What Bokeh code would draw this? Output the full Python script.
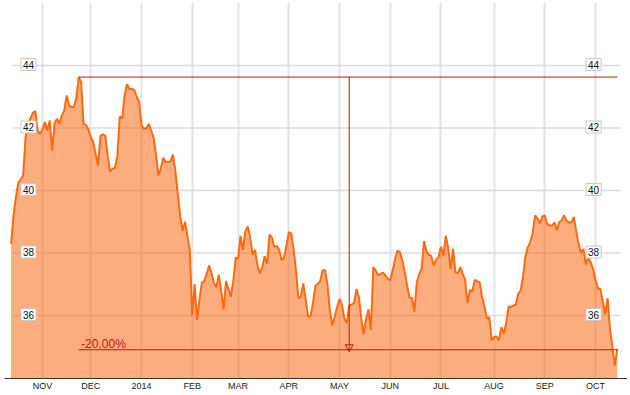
from bokeh.plotting import figure
from bokeh.models import FixedTicker, Range1d
from bokeh.embed import file_html
from bokeh.resources import INLINE
from bokeh.core.properties import value

# Daily closing prices, one per trading day, Oct 15 2013 .. Oct 14 2014
prices = [
    38.29, 39.2, 39.8, 40.25, 40.35, 40.48, 41.71, 42.1, 42.3, 42.48,
    42.54, 41.92, 41.81, 41.95, 42.19, 41.92, 42.24, 41.28, 42.15, 42.3,
    42.13, 42.4, 42.55, 43.04, 42.72, 42.67, 42.67, 42.95, 43.63, 43.47,
    42.13, 42.1, 41.95, 41.7, 41.55, 41.17, 40.8, 41.75, 41.8, 41.75,
    41.1, 40.6, 40.7, 40.72, 41.1, 42.37, 42.3, 43.05, 43.4, 43.25,
    43.25, 43.22, 43.0, 42.85, 42.1, 41.97, 42.0, 42.13, 41.92, 41.7,
    41.15, 40.48, 40.7, 41.05, 40.91, 40.92, 40.93, 41.15, 40.65, 39.9,
    39.2, 38.7, 39.0, 38.55, 38.1, 36.0, 37.0, 35.85, 36.5, 37.05,
    37.1, 37.35, 37.6, 37.35, 37.05, 36.9, 37.3, 36.8, 36.2, 37.1,
    36.85, 36.6, 37.1, 37.85, 37.82, 38.55, 38.1, 38.7, 38.85, 38.5,
    37.95, 38.1, 37.62, 37.35, 37.55, 37.9, 37.65, 38.59, 38.5, 38.2,
    38.22, 38.1, 37.77, 37.85, 38.24, 38.67, 38.63, 38.1, 37.4, 36.55,
    36.6, 37.03, 36.5, 35.97, 35.98, 36.4, 36.95, 37.01, 37.1, 37.45,
    37.45, 37.0, 36.16, 35.68, 35.95, 36.27, 36.53, 36.35, 35.9, 35.75,
    36.32, 36.35, 36.4, 36.85, 36.6, 35.9, 35.4, 35.9, 36.2, 35.55,
    37.55, 37.43, 37.28, 37.33, 37.37, 37.28, 37.17, 37.12, 37.44, 37.8,
    38.08, 38.03, 37.76, 37.39, 36.95, 36.57, 36.57, 36.11, 37.07, 37.33,
    37.5, 38.38, 38.05, 37.95, 37.9, 37.6, 37.78, 37.87, 38.2, 37.92,
    38.55, 38.15, 37.49, 38.13, 37.39, 37.35, 37.55, 37.33, 37.15, 36.4,
    36.82, 36.77, 37.14, 37.1, 37.07, 36.6, 36.3, 35.9, 35.95, 35.2,
    35.31, 35.33, 35.2, 35.63, 35.41, 35.75, 36.29, 36.27, 36.32, 36.35,
    36.7, 36.8, 37.25, 37.9, 38.19, 38.35, 38.65, 39.2, 39.1, 38.95,
    39.17, 39.2, 38.93, 38.88, 38.88, 38.98, 38.72, 38.99, 39.04, 39.2,
    39.04, 38.97, 38.99, 39.15, 38.7, 38.3, 38.0, 38.13, 37.63, 37.87,
    37.7, 37.49, 37.12, 36.87, 36.85, 36.45, 36.05, 36.55, 35.55, 34.99,
    34.4, 34.93,
]

# Trading days in each month segment (first = rest of Oct 2013)
days_per_month = [13, 20, 21, 21, 19, 21, 21, 21, 21, 22, 21, 21]
month_labels = ["NOV", "DEC", "2014", "FEB", "MAR", "APR", "MAY", "JUN",
                "JUL", "AUG", "SEP", "OCT"]
y_ticks = [36, 38, 40, 42, 44]
marker_day = 140          # May 7, 2014
drawdown = -0.20

days = list(range(len(prices)))
month_starts = []
acc = 0
for n in days_per_month:
    acc += n
    month_starts.append(acc)

peak = max(prices)
peak_day = prices.index(peak)
threshold = peak * (1 + drawdown)

RED = "#cc1010"
FONT = value("Liberation Sans")

p = figure(frame_width=623, frame_height=376,
           x_range=Range1d(days[0] - 2.73, days[-1] + 4.24),
           y_range=Range1d(33.984, 46.016),
           output_backend="svg", toolbar_location=None,
           y_axis_location=None,
           min_border_left=4, min_border_right=0,
           min_border_top=2, min_border_bottom=0)
p.outline_line_color = None
p.background_fill_color = "white"

# x axis
ax = p.xaxis[0]
ax.ticker = FixedTicker(ticks=month_starts)
ax.major_label_overrides = {m: lab for m, lab in zip(month_starts, month_labels)}
ax.major_tick_line_color = None
ax.major_tick_out = 0
ax.major_tick_in = 0
ax.minor_tick_line_color = None
ax.minor_tick_out = 0
ax.axis_line_color = "#333333"
ax.axis_line_width = 1
ax.major_label_standoff = 2
ax.major_label_text_font = "Liberation Sans"
ax.major_label_text_font_size = "9px"
ax.major_label_text_color = "#222222"

p.xgrid.grid_line_color = "#e3e3e9"
p.xgrid.grid_line_width = 2
p.ygrid.grid_line_color = None

# horizontal grid lines spanning the data
p.segment(x0=[days[0] + 0.6] * len(y_ticks), x1=[days[-1] + 1.3] * len(y_ticks),
          y0=y_ticks, y1=y_ticks, line_color="#dcdcdc", line_width=1.5)

# area + line
p.varea(x=days, y1=[33.9] * len(days), y2=prices,
        fill_color="#F76A12", fill_alpha=0.55)
p.line(days, prices, line_color="#FF6A10", line_width=2)

# drawdown annotation
p.segment(x0=[peak_day, peak_day, marker_day], x1=[days[-1], days[-1], marker_day],
          y0=[peak, threshold, peak], y1=[peak, threshold, threshold],
          line_color=RED, line_width=1)
p.scatter([marker_day], [threshold + 0.085], marker="inverted_triangle", size=8,
          fill_alpha=0, line_color=RED, line_width=1)
p.text(x=[peak_day + 1], y=[threshold], text=[f"{drawdown * 100:.2f}%"],
       text_align="left", text_baseline="alphabetic", y_offset=-6,
       text_color=RED, text_font=FONT, text_font_size="12px")

# boxed y labels inside the plot on both sides
for xpos in (days[0] + 7.2, days[-1] - 9.8):
    p.text(x=[xpos] * len(y_ticks), y=y_ticks, text=[str(t) for t in y_ticks],
           text_align="center", text_baseline="middle", y_offset=-1,
           text_color="#111111", text_font=FONT, text_font_size="10px",
           background_fill_color="white", border_line_color="#c8c8c8",
           border_line_width=1, padding=2)

open("out.html", "w").write(file_html(p, INLINE))
